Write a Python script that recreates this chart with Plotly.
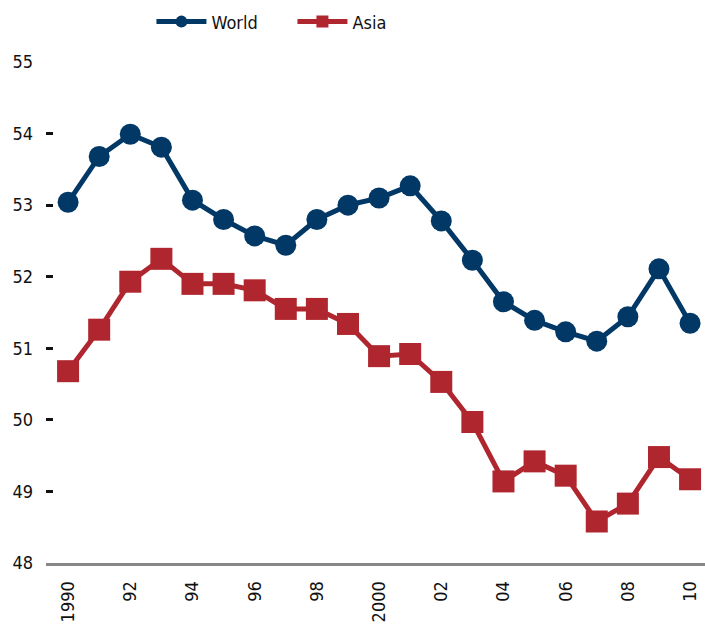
import plotly.graph_objects as go

years = list(range(1990, 2011))
world = [53.04, 53.68, 53.99, 53.81, 53.07, 52.80, 52.57, 52.44, 52.80, 53.00,
         53.10, 53.27, 52.78, 52.23, 51.65, 51.39, 51.23, 51.10, 51.44, 52.11, 51.35]
asia = [50.68, 51.26, 51.93, 52.25, 51.90, 51.90, 51.81, 51.55, 51.55, 51.34,
        50.89, 50.92, 50.53, 49.97, 49.14, 49.42, 49.22, 48.58, 48.83, 49.48, 49.17]
xtick_vals = list(range(1990, 2011, 2))
xtick_text = ["1990", "92", "94", "96", "98", "2000", "02", "04", "06", "08", "10"]
ytick_vals = [48, 49, 50, 51, 52, 53, 54, 55]

navy = "#023866"
red = "#B0262F"
font_family = "DejaVu Sans Condensed, Liberation Sans Narrow, Roboto, sans-serif"

fig = go.Figure()
fig.add_trace(go.Scatter(x=years, y=world, name="World", mode="lines+markers",
                         line=dict(color=navy, width=5),
                         marker=dict(symbol="circle", size=21, color=navy)))
fig.add_trace(go.Scatter(x=years, y=asia, name="Asia", mode="lines+markers",
                         line=dict(color=red, width=5),
                         marker=dict(symbol="square", size=22, color=red)))

fig.update_layout(
    width=705, height=625,
    margin=dict(l=46, r=0, t=62, b=62, autoexpand=False),
    plot_bgcolor="white", paper_bgcolor="white",
    font=dict(family=font_family, size=18, color="#111111"),
    showlegend=True,
    legend=dict(orientation="h", x=0.16, xanchor="left", y=1.08, yanchor="middle",
                font=dict(size=18), itemsizing="constant", itemwidth=50,
                entrywidth=76, entrywidthmode="pixels",
                bgcolor="rgba(0,0,0,0)"),
    xaxis=dict(range=[1989.29, 2010.48], tickvals=xtick_vals, ticktext=xtick_text,
               tickangle=-90, showgrid=False, zeroline=False, showline=True,
               linecolor="#888888", linewidth=3, ticks="", ticklabelstandoff=8,
               automargin=False),
    yaxis=dict(range=[48, 55], tickvals=ytick_vals, showgrid=False, zeroline=False,
               showline=False, ticks="inside", ticklen=7, tickwidth=3, tickcolor="#111111",
               ticklabelstandoff=12, automargin=False),
)

fig.write_html("out.html", config={"displayModeBar": False},
               post_script="document.body.style.margin='0';document.body.style.padding='0';")
